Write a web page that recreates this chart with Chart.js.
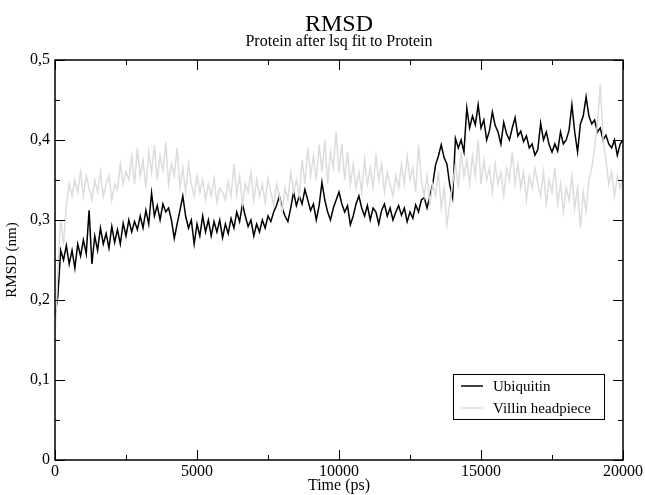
<!DOCTYPE html>
<html>
<head>
<meta charset="utf-8">
<script src="https://cdn.jsdelivr.net/npm/chart.js@4.4.0/dist/chart.umd.min.js"></script>
<style>
  html, body { margin: 0; padding: 0; background: #fff; }
  canvas { display: block; }
</style>
</head>
<body>
<canvas id="myChart" width="645" height="495"></canvas>
<script>
// RMSD values (nm), one sample every 100 ps from 0 to 20000 ps
const seriesNames = ["Ubiquitin", "Villin headpiece"];
const timeStep = 100;
const ubiquitin = [
  0.180, 0.205, 0.262, 0.250, 0.268, 0.245, 0.262, 0.240, 0.270, 0.255,
  0.275, 0.258, 0.312, 0.245, 0.280, 0.262, 0.290, 0.270, 0.283, 0.265,
  0.292, 0.272, 0.288, 0.270, 0.296, 0.280, 0.300, 0.285, 0.298, 0.288,
  0.305, 0.290, 0.312, 0.295, 0.334, 0.305, 0.318, 0.300, 0.320, 0.310,
  0.315, 0.300, 0.277, 0.295, 0.312, 0.330, 0.305, 0.290, 0.300, 0.270,
  0.295, 0.280, 0.305, 0.285, 0.300, 0.280, 0.298, 0.285, 0.300, 0.278,
  0.295, 0.283, 0.302, 0.290, 0.310, 0.298, 0.320, 0.305, 0.292, 0.300,
  0.280, 0.295, 0.285, 0.300, 0.290, 0.305, 0.298, 0.310, 0.318, 0.330,
  0.315, 0.305, 0.298, 0.315, 0.335, 0.318, 0.330, 0.320, 0.338, 0.325,
  0.312, 0.320, 0.300, 0.318, 0.347, 0.325, 0.310, 0.300, 0.315, 0.325,
  0.335, 0.320, 0.310, 0.318, 0.294, 0.305, 0.320, 0.330, 0.315, 0.305,
  0.318, 0.300, 0.315, 0.310, 0.295, 0.312, 0.320, 0.305, 0.315, 0.300,
  0.310, 0.318, 0.306, 0.315, 0.298, 0.310, 0.302, 0.319, 0.310, 0.325,
  0.328, 0.315, 0.330, 0.345, 0.369, 0.380, 0.394, 0.378, 0.370, 0.344,
  0.328, 0.402, 0.390, 0.400, 0.385, 0.440, 0.415, 0.430, 0.419, 0.444,
  0.415, 0.425, 0.400, 0.412, 0.435, 0.418, 0.410, 0.395, 0.422, 0.408,
  0.400, 0.415, 0.428, 0.405, 0.411, 0.398, 0.405, 0.390, 0.395, 0.381,
  0.388, 0.421, 0.400, 0.410, 0.394, 0.385, 0.395, 0.386, 0.410, 0.395,
  0.400, 0.412, 0.444, 0.410, 0.385, 0.420, 0.430, 0.454, 0.430, 0.420,
  0.425, 0.410, 0.415, 0.400, 0.406, 0.395, 0.390, 0.400, 0.381, 0.395,
  0.400
];
const villin = [
  0.150, 0.240, 0.300, 0.270, 0.320, 0.345, 0.330, 0.350, 0.335, 0.360,
  0.330, 0.355, 0.340, 0.325, 0.350, 0.335, 0.360, 0.330, 0.345, 0.355,
  0.325, 0.345, 0.338, 0.370, 0.345, 0.360, 0.350, 0.380, 0.345, 0.390,
  0.355, 0.375, 0.340, 0.385, 0.360, 0.394, 0.350, 0.380, 0.362, 0.397,
  0.345, 0.370, 0.355, 0.390, 0.340, 0.365, 0.335, 0.370, 0.345, 0.330,
  0.355, 0.335, 0.350, 0.325, 0.345, 0.330, 0.352, 0.322, 0.340, 0.335,
  0.325, 0.348, 0.330, 0.370, 0.332, 0.355, 0.320, 0.345, 0.335, 0.360,
  0.325, 0.350, 0.330, 0.345, 0.322, 0.352, 0.335, 0.318, 0.345, 0.330,
  0.310, 0.340, 0.325, 0.360, 0.335, 0.350, 0.330, 0.375, 0.345, 0.390,
  0.355, 0.380, 0.350, 0.394, 0.360, 0.400, 0.345, 0.385, 0.365, 0.410,
  0.360, 0.395, 0.350, 0.385, 0.345, 0.370, 0.340, 0.360, 0.335, 0.375,
  0.345, 0.365, 0.340, 0.380, 0.350, 0.370, 0.335, 0.360, 0.345, 0.330,
  0.355, 0.340, 0.370, 0.345, 0.380, 0.350, 0.365, 0.335, 0.394, 0.350,
  0.330, 0.355, 0.320, 0.345, 0.330, 0.360, 0.315, 0.340, 0.294, 0.320,
  0.345, 0.370, 0.340, 0.385, 0.355, 0.375, 0.345, 0.380, 0.355, 0.400,
  0.345, 0.375, 0.350, 0.365, 0.335, 0.370, 0.345, 0.360, 0.330, 0.365,
  0.350, 0.385, 0.345, 0.370, 0.340, 0.360, 0.325, 0.355, 0.340, 0.365,
  0.345, 0.330, 0.360, 0.320, 0.350, 0.335, 0.365, 0.320, 0.345, 0.310,
  0.340, 0.325, 0.355, 0.315, 0.340, 0.290, 0.335, 0.310, 0.350, 0.365,
  0.390, 0.420, 0.469, 0.400, 0.375, 0.345, 0.360, 0.330, 0.355, 0.340,
  0.350
];
const xTickLabels = ["0", "5000", "10000", "15000", "20000"];
const yTickLabels = ["0", "0,1", "0,2", "0,3", "0,4", "0,5"];

const serif = "'Liberation Serif', 'DejaVu Serif', serif";

function toPoints(values) {
  return values.map((v, i) => ({ x: i * timeStep, y: v }));
}

// grace-like frame, inward ticks, titles and boxed legend
const gracePlugin = {
  id: "grace",
  afterDraw(chart) {
    const ctx = chart.ctx;
    const a = chart.chartArea;
    const xs = chart.scales.x;
    const ys = chart.scales.y;
    ctx.save();
    ctx.strokeStyle = "#000";
    ctx.lineWidth = 1;
    xs.ticks.forEach(t => {
      const x = Math.round(xs.getPixelForValue(t.value)) + 0.5;
      const len = t.value % 5000 === 0 ? 10 : 5;
      ctx.beginPath();
      ctx.moveTo(x, a.bottom); ctx.lineTo(x, a.bottom - len);
      ctx.moveTo(x, a.top); ctx.lineTo(x, a.top + len);
      ctx.stroke();
    });
    ys.ticks.forEach(t => {
      const y = Math.round(ys.getPixelForValue(t.value)) + 0.5;
      const len = Math.round(t.value * 100) % 10 === 0 ? 10 : 5;
      ctx.beginPath();
      ctx.moveTo(a.left, y); ctx.lineTo(a.left + len, y);
      ctx.moveTo(a.right, y); ctx.lineTo(a.right - len, y);
      ctx.stroke();
    });
    ctx.lineWidth = 1.5;
    ctx.strokeRect(a.left, a.top, a.right - a.left, a.bottom - a.top);

    const cx = (a.left + a.right) / 2;
    ctx.fillStyle = "#000";
    ctx.textAlign = "center";
    ctx.textBaseline = "alphabetic";
    ctx.font = "24px " + serif;
    ctx.fillText("RMSD", cx, 31);
    ctx.font = "16px " + serif;
    ctx.fillText("Protein after lsq fit to Protein", cx, 46);

    // legend box
    const bx = 453, by = 374, bw = 151, bh = 45;
    ctx.lineWidth = 1;
    ctx.strokeStyle = "#000";
    ctx.fillStyle = "#fff";
    ctx.fillRect(bx, by, bw, bh);
    ctx.strokeRect(bx + 0.5, by + 0.5, bw, bh);
    ctx.textAlign = "left";
    ctx.textBaseline = "middle";
    ctx.font = "15px " + serif;
    chart.data.datasets.forEach((ds, i) => {
      const ly = by + 12 + i * 22;
      ctx.strokeStyle = ds.borderColor;
      ctx.lineWidth = 1.5;
      ctx.beginPath();
      ctx.moveTo(bx + 8, ly); ctx.lineTo(bx + 30, ly);
      ctx.stroke();
      ctx.fillStyle = "#000";
      ctx.fillText(ds.label, bx + 40, ly + 1);
    });
    ctx.restore();
  }
};

var ctx = document.getElementById("myChart");
var myChart = new Chart(ctx, {
  type: "line",
  data: {
    datasets: [
      {
        label: seriesNames[0],
        data: toPoints(ubiquitin),
        borderColor: "#000000",
        borderWidth: 1.5,
        pointRadius: 0,
        order: 1,
      },
      {
        label: seriesNames[1],
        data: toPoints(villin),
        borderColor: "rgb(220,220,220)",
        borderWidth: 1.5,
        pointRadius: 0,
        order: 0,
      },
    ],
  },
  options: {
    responsive: false,
    animation: false,
    layout: { padding: { left: 0, top: 60, right: 22, bottom: 0 } },
    plugins: { legend: { display: false }, tooltip: { enabled: false } },
    elements: { line: { tension: 0 } },
    scales: {
      x: {
        type: "linear",
        min: 0,
        max: 20000,
        grid: { display: false, drawTicks: false, tickLength: 0 },
        border: { display: false },
        ticks: {
          stepSize: 2500,
          autoSkip: false,
          maxRotation: 0,
          padding: 2,
          color: "#000",
          font: { family: serif, size: 16 },
          callback: v => (v % 5000 === 0 ? xTickLabels[v / 5000] : ""),
        },
        title: {
          display: true,
          text: "Time (ps)",
          color: "#000",
          font: { family: serif, size: 16 },
          padding: { top: 0, bottom: 0 },
        },
        afterFit: s => { s.height = 35; },
      },
      y: {
        min: 0,
        max: 0.5,
        grid: { display: false, drawTicks: false, tickLength: 0 },
        border: { display: false },
        ticks: {
          stepSize: 0.05,
          autoSkip: false,
          padding: 5,
          color: "#000",
          font: { family: serif, size: 16 },
          callback: v => {
            const k = Math.round(v * 100);
            return k % 10 === 0 ? yTickLabels[k / 10] : "";
          },
        },
        title: {
          display: true,
          text: "RMSD (nm)",
          color: "#000",
          font: { family: serif, size: 15 },
          padding: { top: 3, bottom: 0 },
        },
        afterFit: s => { s.width = 55; },
      },
    },
  },
  plugins: [gracePlugin],
});
</script>
</body>
</html>
